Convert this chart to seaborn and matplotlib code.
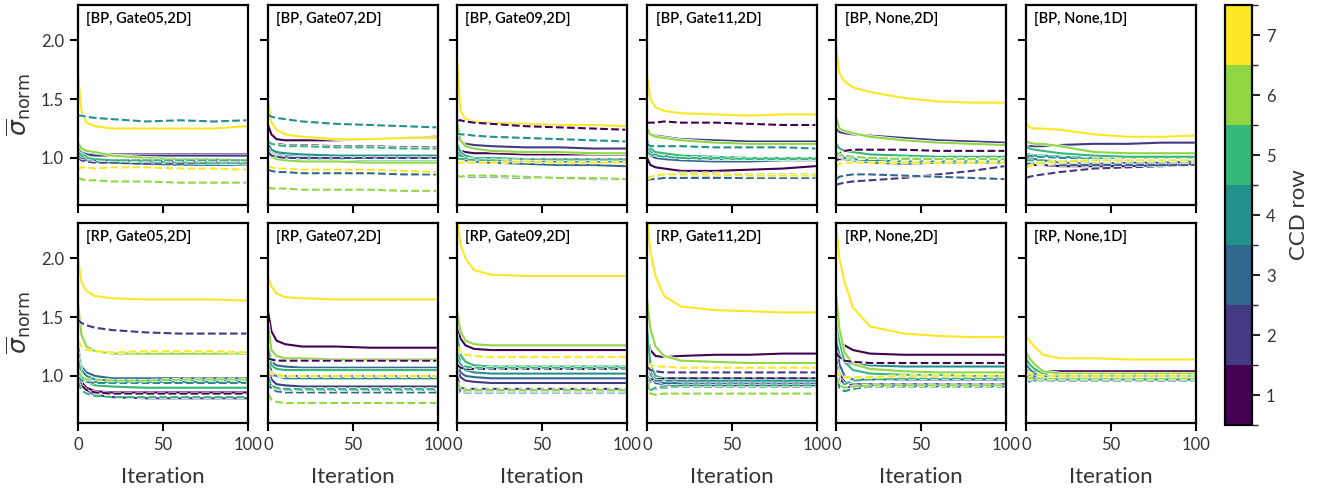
import numpy as np
import pandas as pd
import matplotlib
matplotlib.use("Agg")
import matplotlib.pyplot as plt
import matplotlib.patheffects as pe
from matplotlib.colors import ListedColormap, BoundaryNorm
import seaborn as sns

# ---------------- data ----------------
ITERATIONS = [0, 2, 5, 10, 20, 40, 60, 80, 99]
CCD_ROWS = [1, 2, 3, 4, 5, 6, 7]
PANEL_TITLES = ["[BP, Gate05,2D]", "[BP, Gate07,2D]", "[BP, Gate09,2D]",
                "[BP, Gate11,2D]", "[BP, None,2D]", "[BP, None,1D]",
                "[RP, Gate05,2D]", "[RP, Gate07,2D]", "[RP, Gate09,2D]",
                "[RP, Gate11,2D]", "[RP, None,2D]", "[RP, None,1D]"]

BP_GATE05_SOLID = [
    [1.10, 1.06, 1.04, 1.03, 1.03, 1.03, 1.03, 1.03, 1.03],
    [1.08, 1.05, 1.03, 1.02, 1.02, 1.02, 1.02, 1.02, 1.02],
    [1.08, 1.03, 1.00, 0.98, 0.97, 0.96, 0.96, 0.96, 0.96],
    [1.05, 1.00, 0.98, 0.97, 0.96, 0.95, 0.94, 0.94, 0.94],
    [1.10, 1.04, 1.01, 0.99, 0.98, 0.97, 0.96, 0.96, 0.95],
    [1.13, 1.08, 1.06, 1.05, 1.02, 1.00, 0.99, 0.99, 0.98],
    [1.72, 1.40, 1.30, 1.27, 1.25, 1.25, 1.25, 1.25, 1.27]]
BP_GATE05_DASHED = [
    [1.02, 1.00, 0.99, 0.98, 0.98, 0.98, 0.97, 0.98, 0.98],
    [1.00, 0.98, 0.97, 0.96, 0.96, 0.95, 0.95, 0.96, 0.96],
    [1.03, 1.00, 0.99, 0.98, 0.98, 0.97, 0.97, 0.97, 0.97],
    [1.36, 1.36, 1.35, 1.34, 1.33, 1.31, 1.32, 1.31, 1.32],
    [1.05, 1.02, 1.00, 0.99, 0.98, 0.98, 0.98, 0.98, 0.98],
    [0.83, 0.82, 0.81, 0.81, 0.80, 0.80, 0.79, 0.79, 0.79],
    [0.90, 0.92, 0.92, 0.91, 0.92, 0.92, 0.91, 0.91, 0.90]]

BP_GATE07_SOLID = [
    [1.28, 1.20, 1.16, 1.15, 1.15, 1.15, 1.16, 1.17, 1.18],
    [1.10, 1.05, 1.02, 1.01, 1.00, 1.00, 1.00, 1.00, 1.00],
    [1.12, 1.06, 1.04, 1.03, 1.02, 1.02, 1.01, 1.01, 1.01],
    [1.12, 1.07, 1.05, 1.04, 1.03, 1.02, 1.02, 1.02, 1.02],
    [1.08, 1.03, 1.01, 0.99, 0.98, 0.98, 0.97, 0.97, 0.97],
    [1.05, 1.01, 0.99, 0.98, 0.97, 0.97, 0.96, 0.96, 0.96],
    [1.50, 1.30, 1.24, 1.20, 1.18, 1.16, 1.16, 1.17, 1.17]]
BP_GATE07_DASHED = [
    [1.14, 1.12, 1.12, 1.11, 1.11, 1.10, 1.10, 1.09, 1.09],
    [1.05, 1.02, 1.01, 1.00, 1.00, 1.00, 1.00, 1.00, 1.00],
    [0.90, 0.89, 0.88, 0.88, 0.87, 0.87, 0.87, 0.86, 0.86],
    [1.37, 1.35, 1.34, 1.33, 1.31, 1.29, 1.28, 1.27, 1.26],
    [1.14, 1.12, 1.11, 1.10, 1.10, 1.09, 1.09, 1.08, 1.08],
    [0.75, 0.74, 0.74, 0.74, 0.73, 0.73, 0.73, 0.72, 0.72],
    [0.93, 0.92, 0.91, 0.91, 0.90, 0.90, 0.90, 0.89, 0.88]]

BP_GATE09_SOLID = [
    [1.10, 1.06, 1.05, 1.04, 1.04, 1.03, 1.03, 1.03, 1.03],
    [1.20, 1.14, 1.12, 1.11, 1.10, 1.09, 1.09, 1.08, 1.08],
    [1.05, 1.00, 0.98, 0.97, 0.96, 0.95, 0.94, 0.94, 0.93],
    [1.08, 1.02, 1.00, 0.99, 0.98, 0.98, 0.97, 0.97, 0.97],
    [1.12, 1.05, 1.02, 1.00, 1.00, 0.99, 0.99, 0.99, 0.99],
    [1.30, 1.15, 1.10, 1.08, 1.06, 1.05, 1.05, 1.04, 1.04],
    [1.85, 1.40, 1.33, 1.31, 1.30, 1.29, 1.28, 1.28, 1.27]]
BP_GATE09_DASHED = [
    [1.32, 1.32, 1.31, 1.30, 1.29, 1.27, 1.26, 1.25, 1.24],
    [1.00, 0.99, 0.99, 0.99, 0.98, 0.98, 0.98, 0.98, 0.98],
    [0.85, 0.84, 0.84, 0.84, 0.84, 0.83, 0.83, 0.82, 0.82],
    [1.21, 1.20, 1.20, 1.19, 1.18, 1.17, 1.16, 1.15, 1.14],
    [1.00, 0.99, 0.99, 0.98, 0.98, 0.97, 0.97, 0.97, 0.97],
    [0.85, 0.84, 0.85, 0.85, 0.85, 0.84, 0.83, 0.83, 0.82],
    [0.96, 0.96, 0.96, 0.96, 0.96, 0.97, 0.96, 0.96, 0.96]]

BP_GATE11_SOLID = [
    [1.00, 0.94, 0.92, 0.91, 0.89, 0.89, 0.90, 0.91, 0.93],
    [1.22, 1.20, 1.19, 1.18, 1.16, 1.15, 1.14, 1.14, 1.14],
    [1.08, 1.02, 1.00, 0.99, 0.98, 0.97, 0.97, 0.98, 0.98],
    [1.12, 1.05, 1.03, 1.02, 1.00, 0.99, 0.99, 0.99, 0.99],
    [1.15, 1.08, 1.05, 1.04, 1.02, 1.01, 1.00, 1.00, 1.00],
    [1.25, 1.20, 1.18, 1.17, 1.15, 1.13, 1.12, 1.12, 1.12],
    [1.70, 1.50, 1.43, 1.40, 1.38, 1.37, 1.36, 1.37, 1.37]]
BP_GATE11_DASHED = [
    [1.30, 1.30, 1.30, 1.31, 1.30, 1.30, 1.29, 1.28, 1.28],
    [0.82, 0.83, 0.83, 0.83, 0.83, 0.84, 0.84, 0.84, 0.84],
    [0.81, 0.82, 0.82, 0.83, 0.83, 0.83, 0.83, 0.83, 0.83],
    [1.12, 1.10, 1.10, 1.10, 1.10, 1.09, 1.09, 1.09, 1.08],
    [1.05, 1.03, 1.02, 1.01, 1.00, 1.00, 0.99, 0.99, 0.99],
    [0.82, 0.84, 0.85, 0.86, 0.87, 0.87, 0.86, 0.86, 0.86],
    [0.83, 0.84, 0.85, 0.86, 0.86, 0.86, 0.85, 0.85, 0.85]]

BP_NONE2D_SOLID = [
    [0.98, 0.99, 0.99, 0.98, 0.97, 0.96, 0.96, 0.96, 0.96],
    [1.25, 1.22, 1.21, 1.20, 1.19, 1.17, 1.15, 1.14, 1.13],
    [1.03, 1.01, 0.99, 0.98, 0.96, 0.95, 0.96, 0.96, 0.96],
    [1.05, 1.02, 1.00, 0.99, 0.98, 0.97, 0.97, 0.97, 0.97],
    [1.12, 1.08, 1.06, 1.05, 1.03, 1.02, 1.01, 1.01, 1.01],
    [1.35, 1.25, 1.23, 1.21, 1.18, 1.15, 1.13, 1.12, 1.11],
    [1.95, 1.72, 1.65, 1.60, 1.56, 1.51, 1.48, 1.47, 1.47]]
BP_NONE2D_DASHED = [
    [1.00, 1.04, 1.06, 1.07, 1.07, 1.07, 1.06, 1.06, 1.06],
    [0.77, 0.78, 0.79, 0.80, 0.81, 0.83, 0.86, 0.89, 0.93],
    [0.82, 0.84, 0.85, 0.86, 0.86, 0.85, 0.84, 0.83, 0.82],
    [1.02, 1.02, 1.01, 1.00, 1.00, 0.99, 0.99, 0.98, 0.98],
    [1.03, 1.02, 1.01, 1.00, 1.00, 1.00, 0.99, 0.99, 0.99],
    [1.05, 1.03, 1.02, 1.01, 1.00, 0.99, 0.99, 0.99, 0.99],
    [0.92, 0.95, 0.96, 0.96, 0.96, 0.96, 0.96, 0.96, 0.96]]

BP_NONE1D_SOLID = [
    [0.95, 0.95, 0.94, 0.94, 0.93, 0.93, 0.93, 0.94, 0.95],
    [1.09, 1.10, 1.10, 1.10, 1.11, 1.12, 1.12, 1.13, 1.13],
    [1.00, 1.00, 0.99, 0.98, 0.96, 0.95, 0.96, 0.96, 0.97],
    [1.03, 1.03, 1.02, 1.02, 1.01, 1.00, 1.00, 1.00, 1.00],
    [1.10, 1.08, 1.07, 1.06, 1.04, 1.02, 1.01, 1.01, 1.01],
    [1.14, 1.13, 1.12, 1.12, 1.10, 1.05, 1.04, 1.04, 1.04],
    [1.30, 1.26, 1.25, 1.25, 1.24, 1.20, 1.18, 1.18, 1.19]]
BP_NONE1D_DASHED = [
    [0.96, 0.96, 0.96, 0.96, 0.96, 0.96, 0.96, 0.96, 0.96],
    [0.83, 0.84, 0.85, 0.86, 0.88, 0.91, 0.92, 0.93, 0.94],
    [0.95, 0.95, 0.95, 0.95, 0.94, 0.94, 0.94, 0.94, 0.94],
    [1.02, 1.02, 1.01, 1.01, 1.00, 0.99, 0.98, 0.98, 0.98],
    [0.98, 0.98, 0.98, 0.98, 0.97, 0.97, 0.97, 0.97, 0.97],
    [0.92, 0.93, 0.94, 0.95, 0.96, 0.97, 0.98, 0.98, 0.98],
    [0.92, 0.93, 0.95, 0.96, 0.97, 0.98, 0.98, 0.98, 0.98]]

RP_GATE05_SOLID = [
    [1.10, 0.95, 0.90, 0.87, 0.86, 0.86, 0.86, 0.86, 0.86],
    [1.05, 0.92, 0.87, 0.84, 0.82, 0.81, 0.81, 0.81, 0.81],
    [1.25, 1.08, 1.03, 1.00, 0.98, 0.98, 0.98, 0.98, 0.98],
    [1.20, 1.05, 1.00, 0.97, 0.96, 0.96, 0.96, 0.96, 0.96],
    [1.15, 1.00, 0.95, 0.92, 0.91, 0.90, 0.90, 0.90, 0.90],
    [1.62, 1.35, 1.25, 1.21, 1.19, 1.19, 1.19, 1.19, 1.19],
    [2.00, 1.80, 1.72, 1.68, 1.66, 1.65, 1.65, 1.65, 1.64]]
RP_GATE05_DASHED = [
    [1.00, 0.92, 0.88, 0.86, 0.85, 0.85, 0.85, 0.85, 0.85],
    [1.48, 1.45, 1.43, 1.41, 1.39, 1.37, 1.36, 1.36, 1.36],
    [1.05, 0.98, 0.96, 0.95, 0.95, 0.95, 0.95, 0.95, 0.95],
    [1.00, 0.96, 0.95, 0.94, 0.94, 0.94, 0.94, 0.94, 0.94],
    [0.95, 0.88, 0.85, 0.83, 0.82, 0.82, 0.82, 0.82, 0.82],
    [1.05, 0.99, 0.97, 0.97, 0.96, 0.96, 0.97, 0.97, 0.97],
    [1.30, 1.25, 1.22, 1.21, 1.20, 1.21, 1.21, 1.21, 1.20]]

RP_GATE07_SOLID = [
    [1.55, 1.38, 1.30, 1.27, 1.25, 1.25, 1.24, 1.24, 1.24],
    [1.15, 0.97, 0.93, 0.92, 0.91, 0.91, 0.91, 0.91, 0.91],
    [1.30, 1.12, 1.09, 1.08, 1.07, 1.07, 1.07, 1.07, 1.07],
    [1.20, 1.03, 1.00, 0.98, 0.98, 0.98, 0.98, 0.98, 0.98],
    [1.25, 1.09, 1.06, 1.05, 1.05, 1.05, 1.05, 1.05, 1.05],
    [1.45, 1.22, 1.17, 1.15, 1.15, 1.14, 1.14, 1.14, 1.14],
    [1.84, 1.76, 1.70, 1.67, 1.66, 1.65, 1.65, 1.65, 1.65]]
RP_GATE07_DASHED = [
    [1.15, 1.14, 1.13, 1.13, 1.13, 1.13, 1.13, 1.13, 1.13],
    [1.02, 1.01, 1.00, 1.00, 1.00, 1.00, 1.00, 1.00, 1.00],
    [0.95, 0.89, 0.87, 0.86, 0.86, 0.86, 0.86, 0.86, 0.86],
    [0.98, 0.91, 0.89, 0.88, 0.88, 0.88, 0.88, 0.88, 0.88],
    [1.00, 0.92, 0.90, 0.89, 0.89, 0.89, 0.89, 0.89, 0.89],
    [0.85, 0.80, 0.78, 0.77, 0.77, 0.77, 0.77, 0.77, 0.77],
    [1.05, 1.02, 1.01, 1.00, 1.00, 1.00, 1.00, 1.00, 1.00]]

RP_GATE09_SOLID = [
    [1.45, 1.32, 1.26, 1.23, 1.22, 1.22, 1.22, 1.22, 1.22],
    [1.15, 0.99, 0.96, 0.95, 0.94, 0.94, 0.94, 0.94, 0.94],
    [1.20, 1.03, 1.00, 0.99, 0.98, 0.98, 0.98, 0.98, 0.98],
    [1.30, 1.10, 1.05, 1.03, 1.02, 1.02, 1.02, 1.02, 1.02],
    [1.35, 1.18, 1.12, 1.09, 1.08, 1.08, 1.08, 1.08, 1.08],
    [1.55, 1.38, 1.30, 1.27, 1.26, 1.26, 1.26, 1.26, 1.26],
    [2.35, 2.12, 2.00, 1.90, 1.86, 1.85, 1.85, 1.85, 1.85]]
RP_GATE09_DASHED = [
    [1.10, 1.07, 1.06, 1.06, 1.06, 1.06, 1.06, 1.06, 1.06],
    [1.00, 0.90, 0.89, 0.89, 0.89, 0.89, 0.89, 0.89, 0.89],
    [0.92, 0.86, 0.86, 0.86, 0.86, 0.86, 0.86, 0.86, 0.86],
    [0.93, 0.87, 0.87, 0.87, 0.87, 0.87, 0.87, 0.87, 0.87],
    [1.15, 1.10, 1.08, 1.07, 1.07, 1.07, 1.07, 1.07, 1.07],
    [0.95, 0.89, 0.88, 0.88, 0.88, 0.88, 0.88, 0.88, 0.88],
    [1.25, 1.20, 1.18, 1.17, 1.16, 1.16, 1.16, 1.16, 1.16]]

RP_GATE11_SOLID = [
    [1.35, 1.22, 1.17, 1.16, 1.17, 1.18, 1.18, 1.19, 1.19],
    [1.25, 1.00, 0.94, 0.93, 0.92, 0.92, 0.92, 0.92, 0.92],
    [1.30, 1.02, 0.96, 0.94, 0.94, 0.94, 0.94, 0.94, 0.94],
    [1.35, 1.05, 0.98, 0.97, 0.96, 0.96, 0.96, 0.96, 0.96],
    [1.40, 1.10, 1.00, 0.98, 0.98, 0.98, 0.98, 0.98, 0.98],
    [1.65, 1.40, 1.25, 1.17, 1.13, 1.12, 1.11, 1.11, 1.11],
    [2.35, 2.05, 1.85, 1.68, 1.59, 1.56, 1.55, 1.54, 1.54]]
RP_GATE11_DASHED = [
    [1.00, 0.97, 0.97, 0.98, 0.98, 0.98, 0.98, 0.98, 0.98],
    [1.08, 1.05, 1.04, 1.03, 1.03, 1.03, 1.03, 1.03, 1.03],
    [0.98, 0.88, 0.89, 0.90, 0.91, 0.91, 0.91, 0.91, 0.91],
    [1.00, 0.95, 0.96, 0.96, 0.96, 0.96, 0.96, 0.96, 0.96],
    [0.98, 0.88, 0.90, 0.91, 0.92, 0.92, 0.92, 0.92, 0.92],
    [0.95, 0.85, 0.84, 0.85, 0.85, 0.85, 0.85, 0.85, 0.85],
    [1.10, 1.09, 1.08, 1.08, 1.07, 1.07, 1.07, 1.07, 1.07]]

RP_NONE2D_SOLID = [
    [1.35, 1.30, 1.26, 1.22, 1.19, 1.18, 1.18, 1.18, 1.18],
    [1.25, 1.02, 0.95, 0.93, 0.93, 0.93, 0.93, 0.93, 0.93],
    [1.35, 1.10, 1.00, 0.97, 0.97, 0.97, 0.97, 0.97, 0.97],
    [1.30, 1.18, 1.12, 1.10, 1.09, 1.08, 1.08, 1.08, 1.08],
    [1.60, 1.30, 1.12, 1.05, 1.02, 1.01, 1.01, 1.00, 1.00],
    [1.70, 1.40, 1.20, 1.10, 1.06, 1.04, 1.03, 1.03, 1.03],
    [2.30, 2.00, 1.80, 1.58, 1.42, 1.36, 1.34, 1.33, 1.33]]
RP_NONE2D_DASHED = [
    [1.20, 1.16, 1.13, 1.12, 1.11, 1.11, 1.11, 1.11, 1.11],
    [1.15, 0.98, 0.93, 0.92, 0.92, 0.92, 0.92, 0.92, 0.92],
    [1.08, 0.93, 0.90, 0.91, 0.91, 0.91, 0.91, 0.91, 0.91],
    [1.05, 0.90, 0.87, 0.89, 0.91, 0.91, 0.91, 0.91, 0.91],
    [1.10, 0.95, 0.93, 0.96, 0.97, 0.98, 0.98, 0.98, 0.98],
    [1.00, 0.92, 0.90, 0.91, 0.92, 0.92, 0.92, 0.92, 0.92],
    [1.05, 1.00, 0.99, 0.99, 0.99, 1.00, 1.00, 1.00, 1.00]]

RP_NONE1D_SOLID = [
    [1.05, 1.04, 1.04, 1.04, 1.04, 1.04, 1.04, 1.04, 1.04],
    [1.02, 1.00, 0.98, 0.98, 0.98, 0.98, 0.98, 0.98, 0.98],
    [1.05, 1.02, 1.00, 0.99, 0.99, 0.99, 0.99, 0.99, 0.99],
    [1.10, 1.06, 1.02, 1.00, 1.00, 1.00, 1.00, 1.00, 1.00],
    [1.15, 1.10, 1.06, 1.02, 1.01, 1.01, 1.01, 1.01, 1.01],
    [1.20, 1.15, 1.10, 1.04, 1.02, 1.02, 1.02, 1.02, 1.02],
    [1.34, 1.30, 1.25, 1.18, 1.15, 1.15, 1.14, 1.14, 1.14]]
RP_NONE1D_DASHED = [
    [1.02, 1.01, 1.00, 1.00, 1.00, 1.00, 1.00, 1.00, 1.00],
    [0.98, 0.97, 0.97, 0.97, 0.97, 0.97, 0.97, 0.97, 0.97],
    [0.99, 0.96, 0.96, 0.96, 0.96, 0.96, 0.96, 0.96, 0.96],
    [1.00, 0.95, 0.96, 0.97, 0.97, 0.97, 0.97, 0.97, 0.97],
    [1.00, 0.97, 0.97, 0.97, 0.97, 0.97, 0.97, 0.97, 0.97],
    [1.00, 0.98, 0.98, 0.98, 0.98, 0.98, 0.98, 0.98, 0.98],
    [1.03, 1.02, 1.01, 1.00, 1.00, 1.00, 1.00, 1.00, 1.00]]

PANELS = [
    (BP_GATE05_SOLID, BP_GATE05_DASHED), (BP_GATE07_SOLID, BP_GATE07_DASHED),
    (BP_GATE09_SOLID, BP_GATE09_DASHED), (BP_GATE11_SOLID, BP_GATE11_DASHED),
    (BP_NONE2D_SOLID, BP_NONE2D_DASHED), (BP_NONE1D_SOLID, BP_NONE1D_DASHED),
    (RP_GATE05_SOLID, RP_GATE05_DASHED), (RP_GATE07_SOLID, RP_GATE07_DASHED),
    (RP_GATE09_SOLID, RP_GATE09_DASHED), (RP_GATE11_SOLID, RP_GATE11_DASHED),
    (RP_NONE2D_SOLID, RP_NONE2D_DASHED), (RP_NONE1D_SOLID, RP_NONE1D_DASHED)]

# ---------------- style ----------------
sns.set_theme(style="ticks")
plt.rcParams["font.family"] = ["Lato", "DejaVu Sans"]
plt.rcParams["mathtext.fontset"] = "dejavusans"
TEXT = "#333333"

colors = [tuple(c) for c in matplotlib.colormaps["viridis"](np.linspace(0, 1, 7))]
palette = {r: colors[i] for i, r in enumerate(CCD_ROWS)}

W, H = 1327, 490
fig = plt.figure(figsize=(W / 100, H / 100), dpi=100)

col_left = [78, 268, 457, 647, 836, 1026]
row_top = [5, 223]
ax_w, ax_h = 170, 200

for k, (solid, dashed) in enumerate(PANELS):
    r, c = divmod(k, 6)
    x0 = col_left[c] / W
    y0 = 1 - (row_top[r] + ax_h) / H
    ax = fig.add_axes([x0, y0, ax_w / W, ax_h / H])
    recs = []
    for kind, block in (("solid", solid), ("dashed", dashed)):
        for i, row in enumerate(CCD_ROWS):
            for it, v in zip(ITERATIONS, block[i]):
                recs.append({"Iteration": it, "sigma": v, "row": row, "kind": kind})
    df = pd.DataFrame(recs)
    for kind, ls in (("solid", "-"), ("dashed", "--")):
        sub = df[df["kind"] == kind]
        for row in CCD_ROWS:
            d = sub[sub["row"] == row]
            sns.lineplot(data=d, x="Iteration", y="sigma", ax=ax, color=palette[row],
                         linestyle=ls, linewidth=1.5, legend=False, errorbar=None,
                         path_effects=[pe.Stroke(linewidth=2.5, foreground="white"), pe.Normal()])
    ax.set_xlim(0, 100)
    ax.set_ylim(0.6, 2.3)
    ax.set_xticks([0, 50, 100])
    ax.set_yticks([1.0, 1.5, 2.0])
    for s in ax.spines.values():
        s.set_linewidth(1.6)
        s.set_color("black")
    ax.tick_params(axis="both", direction="out", length=6, width=1.5, color="black",
                   labelsize=12, labelcolor=TEXT, pad=4)
    ax.text(0.05, 0.965, PANEL_TITLES[k], transform=ax.transAxes, ha="left", va="top",
            fontsize=10.5, fontweight="semibold", color="black")
    if c == 0:
        ax.set_ylabel(r"$\overline{\sigma}_{\mathrm{norm}}$", fontsize=18, color=TEXT, labelpad=6)
    else:
        ax.set_ylabel("")
        ax.set_yticklabels([])
    if r == 1:
        ax.set_xlabel("Iteration", fontsize=16, color=TEXT, labelpad=10)
    else:
        ax.set_xlabel("")
        ax.set_xticklabels([])

# colorbar
cax = fig.add_axes([1225 / W, 1 - 425 / H, 27 / W, 420 / H])
cmap = ListedColormap(colors)
norm = BoundaryNorm(np.arange(0.5, 8.5, 1.0), cmap.N)
sm = matplotlib.cm.ScalarMappable(norm=norm, cmap=cmap)
cb = fig.colorbar(sm, cax=cax, ticks=CCD_ROWS)
cb.outline.set_linewidth(1.6)
cb.outline.set_edgecolor("black")
cax.tick_params(length=6, width=1.5, labelsize=12, labelcolor=TEXT, pad=4)
cb.set_label("CCD row", fontsize=16, color=TEXT, labelpad=10)

fig.savefig("out.png", dpi=100)
